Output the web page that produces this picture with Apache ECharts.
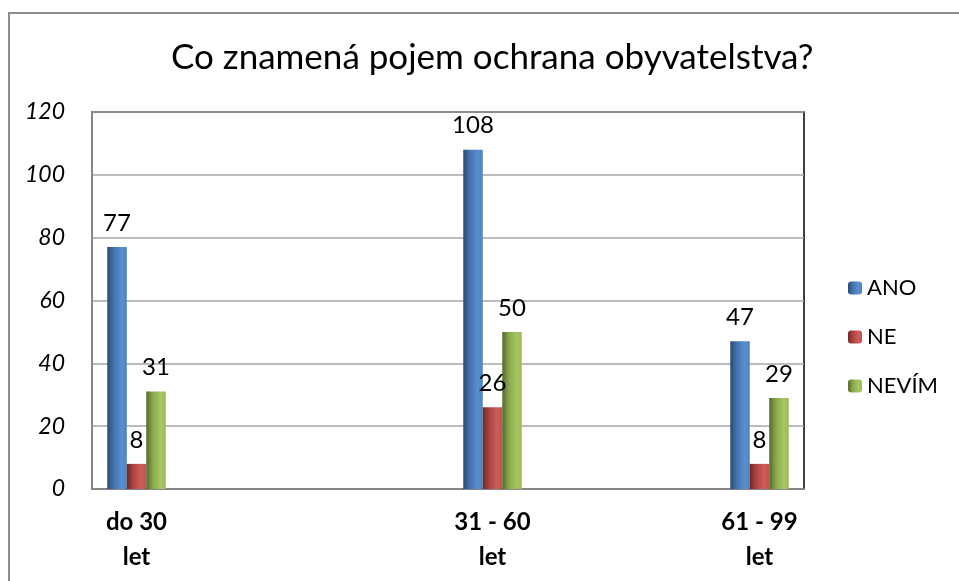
<!DOCTYPE html>
<html>
<head>
<meta charset="utf-8">
<script src="https://cdn.jsdelivr.net/npm/echarts@6/dist/echarts.min.js"></script>
<style>
html,body{margin:0;padding:0;background:#fff;}
#main{width:959px;height:581px;}
</style>
</head>
<body>
<div id="main"></div>
<script>
// kategorie (prazdna mista jsou v puvodnim grafu taky)
var categories = ['do 30\nlet', '', '', '', '31 - 60\nlet', '', '', '61 - 99\nlet'];
var anoData   = [77, null, null, null, 108, null, null, 47];
var neData    = [8, null, null, null, 26, null, null, 8];
var nevimData = [31, null, null, null, 50, null, null, 29];
var yTicks = [0, 20, 40, 60, 80, 100, 120];

var myChart = echarts.init(document.getElementById('main'));

function grad(c0, c1, c2, c3){
    return new echarts.graphic.LinearGradient(0, 0, 1, 0, [
        {offset: 0, color: c0},
        {offset: 0.35, color: c1},
        {offset: 0.75, color: c2},
        {offset: 1, color: c3}
    ]);
}

var labelStyle = {
    show: true,
    position: 'top',
    distance: 12,
    color: '#000',
    fontSize: 24,
    fontFamily: 'Lato'
};

var option = {
    animation: false,
    textStyle: {fontFamily: 'Lato'},
    title: {
        text: 'Co znamená pojem ochrana obyvatelstva?',
        left: 166,
        top: 35,
        textStyle: {fontSize: 35, fontWeight: 'normal', color: '#000', fontFamily: 'Lato'}
    },
    graphic: [{
        type: 'polyline',
        shape: {points: [[9, 600], [9, 13], [980, 13]]},
        style: {stroke: '#8c8c8c', lineWidth: 2, fill: null},
        silent: true
    }],
    legend: {
        orient: 'vertical',
        left: 843,
        top: 272,
        itemWidth: 14,
        itemHeight: 13,
        itemGap: 27,
        textStyle: {fontSize: 22, color: '#000', fontFamily: 'Lato'},
        data: ['ANO', 'NE', 'NEVÍM']
    },
    grid: {
        left: 92,
        top: 112,
        right: 155,
        bottom: 92,
        show: true,
        borderColor: '#000',
        borderWidth: 1.5
    },
    xAxis: {
        type: 'category',
        data: categories,
        axisLine: {lineStyle: {color: '#868686', width: 2}},
        axisTick: {show: false},
        axisLabel: {
            interval: 0,
            color: '#000',
            fontSize: 24,
            fontWeight: 'bold',
            lineHeight: 35,
            margin: 16,
            fontFamily: 'Lato'
        }
    },
    yAxis: {
        type: 'value',
        min: 0,
        max: yTicks[yTicks.length - 1],
        interval: 20,
        axisLine: {show: true, lineStyle: {color: '#868686', width: 2}},
        axisTick: {show: false},
        splitLine: {lineStyle: {color: '#a6a6a6', width: 1.5}},
        axisLabel: {
            color: '#000',
            fontSize: 23,
            fontStyle: 'italic',
            margin: 27,
            fontFamily: 'Lato'
        }
    },
    series: [
        {
            name: 'ANO',
            type: 'bar',
            data: anoData,
            barWidth: 19.5,
            barGap: '0%',
            itemStyle: {color: grad('#2c4a70', '#4575b0', '#5b8fd0', '#4f81bd')},
            label: labelStyle
        },
        {
            name: 'NE',
            type: 'bar',
            data: neData,
            barWidth: 19.5,
            barGap: '0%',
            itemStyle: {color: grad('#722826', '#ad4542', '#cf5e5b', '#c0504d')},
            label: labelStyle
        },
        {
            name: 'NEVÍM',
            type: 'bar',
            data: nevimData,
            barWidth: 19.5,
            barGap: '0%',
            itemStyle: {color: grad('#56692e', '#8aa94d', '#a6c764', '#9bbb59')},
            label: labelStyle
        }
    ]
};

myChart.setOption(option);
</script>
</body>
</html>
